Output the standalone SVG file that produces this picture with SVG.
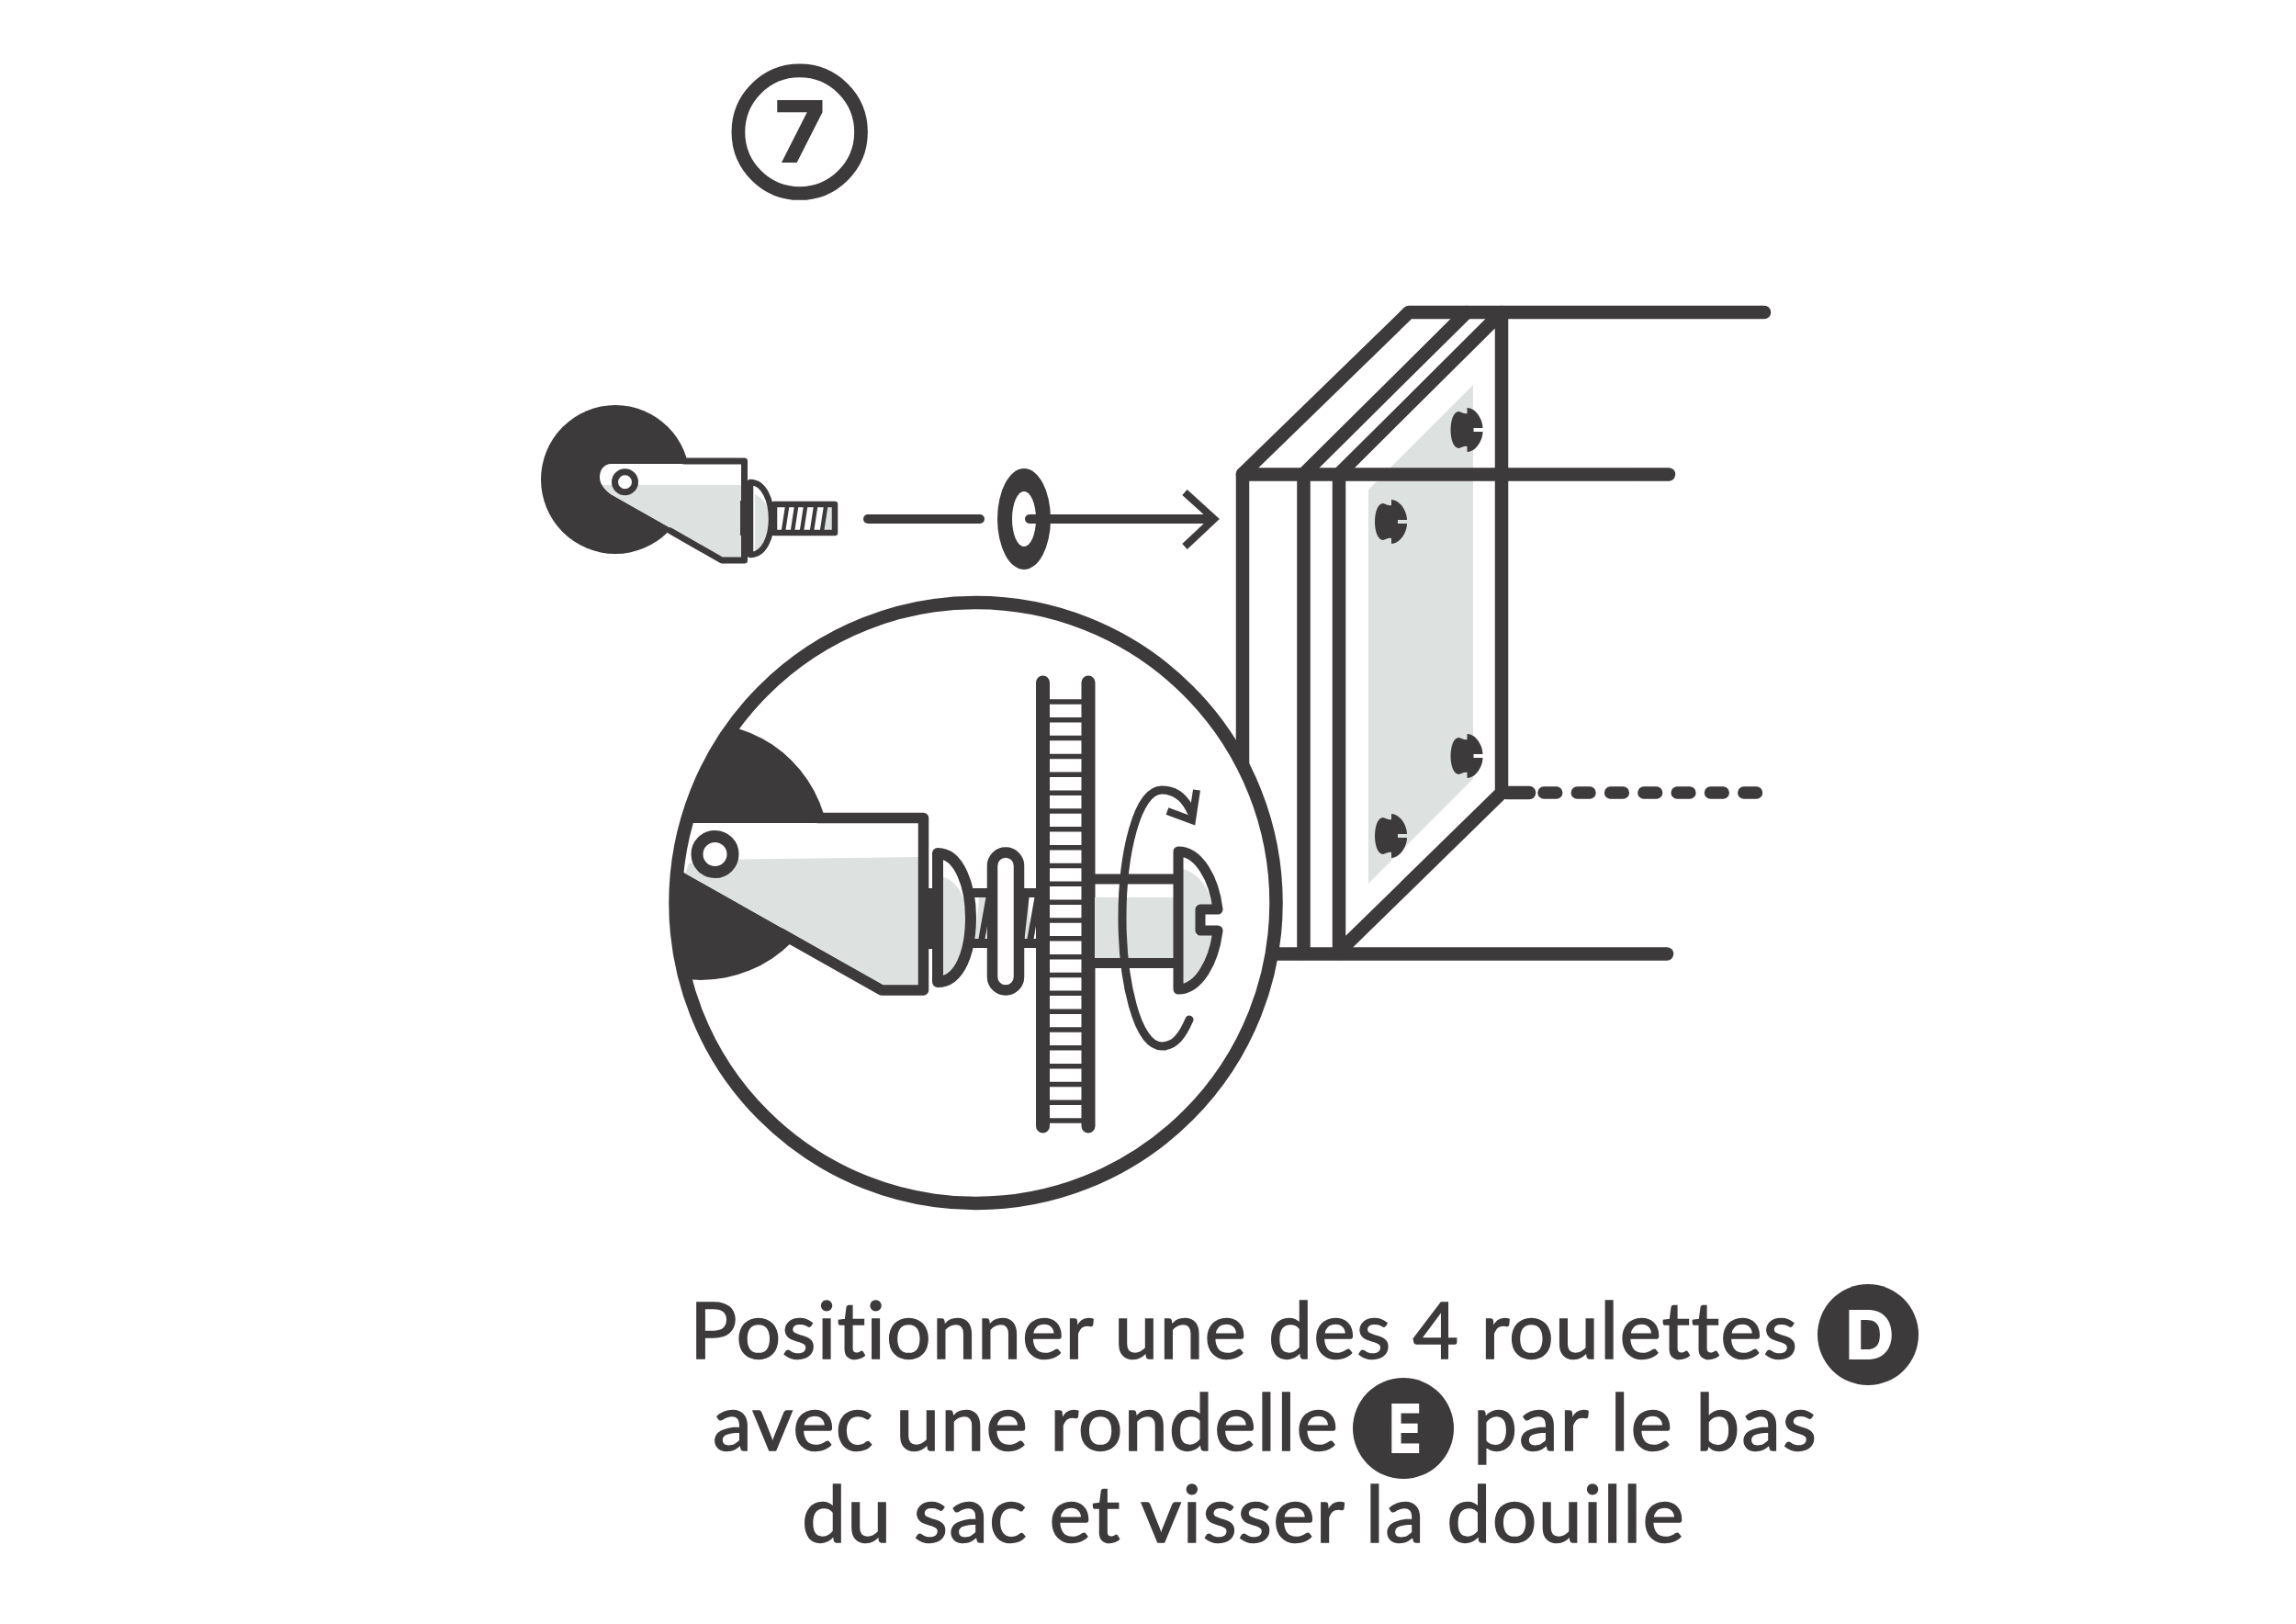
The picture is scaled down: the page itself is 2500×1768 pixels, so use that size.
<svg xmlns="http://www.w3.org/2000/svg" width="2500" height="1768" viewBox="0 0 2500 1768">
<style>
.l{fill:none;stroke:#3d3a3b;stroke-linecap:round;stroke-linejoin:round}
.d{fill:#3d3a3b}
.g{fill:#dde1df}
.w{fill:#fff}
.t{font-family:"Lato","Liberation Sans",sans-serif;font-size:86px;fill:#3d3a3b;stroke:#3d3a3b;stroke-width:1.4px;font-variant-ligatures:none}
.b{font-family:"Inter","Liberation Sans",sans-serif;font-weight:800;text-anchor:middle}
</style>
<defs>
<clipPath id="lens"><circle cx="1062.5" cy="983" r="327"/></clipPath>
<path id="screw" class="d" d="M0 -24C9 -24 17 -12 17 -2H7V2H17C17 12 9 24 0 24V18C-3 17 -5 19 -9 20C-15 20 -18 10 -18 0C-18 -10 -15 -20 -9 -20C-5 -19 -3 -17 0 -18Z"/>
</defs>
<rect width="2500" height="1768" fill="#fff"/>
<g id="step-number">
<circle cx="870.7" cy="143.7" r="66.8" fill="#fff" stroke="#3d3a3b" stroke-width="14.7"/>
<text class="b" x="871" y="177" font-size="94" fill="#3d3a3b">7</text>
</g>
<g id="bag">
<polygon class="g" points="1490,533 1604,419 1604,848 1490,962"/>
<use href="#screw" x="1597.5" y="468"/>
<use href="#screw" x="1515" y="568"/>
<use href="#screw" x="1597.5" y="823"/>
<use href="#screw" x="1515" y="910"/>
<g class="l" stroke-width="14.5">
<path d="M1353 835V516L1534 340H1921"/>
<path d="M1353 516.500H1817"/>
<path d="M1380 1038.500H1815"/>
<path d="M1419.500 1038V516L1597 340"/>
<path d="M1458 1038V516L1635 340V863L1458 1036"/>
<path d="M1640 863H1665"/>
<path d="M1681 863H1919" stroke-dasharray="13.700 22.600" stroke-width="13.500"/>
</g>
</g>
<g id="caster">
<circle class="d" cx="670" cy="522" r="81"/>
<path class="w" d="M666 505H807V607H787L665 538C655 530 653 525 653 519C653 511 658 505 666 505Z"/>
<path class="g" d="M656 528H807V607H787L665 538C660 534 657 531 656 528Z"/>
<path class="l" stroke-width="7" d="M745 502H810.500V610H786L730 578"/>
<circle cx="680.500" cy="524.700" r="11" fill="#fff" stroke="#3d3a3b" stroke-width="7"/>
<rect class="d" x="806" y="545" width="12" height="38"/>
<path class="w" d="M817 525C832 525 840 545 840 565C840 585 832 604 817 604Z"/>
<path class="g" d="M822 538C832 543 838 552 838 565C838 582 832 596 822 600Z"/>
<path class="l" stroke-width="6.500" d="M817 525C832 525 840 545 840 565C840 585 832 604 817 604Z"/>
<rect x="843" y="549" width="66" height="31" fill="#fff"/>
<polygon class="g" points="899,552 908,552 908,578 896,578"/>
<path class="l" stroke-width="4.500" d="M857 552L853 578M867 552L863 578M877 552L873 578M888 552L884 578M899 552L895 578"/>
<rect x="843" y="549" width="66" height="31" fill="none" stroke="#3d3a3b" stroke-width="6.500" stroke-linejoin="round"/>
</g>
<g id="washer">
<ellipse class="d" cx="1115" cy="565" rx="29" ry="55"/>
<ellipse class="w" cx="1115" cy="565" rx="13" ry="30"/>
</g>
<g id="connectors">
<path class="l" stroke-width="10" d="M945 565H1067"/>
<path class="l" stroke-width="10" d="M1121 565H1318"/>
<path fill="none" stroke="#3d3a3b" stroke-width="8" d="M1290 536L1322 565L1290 595"/>
</g>
<g id="detail">
<circle class="w" cx="1062.500" cy="983" r="327"/>
<g clip-path="url(#lens)">
<circle class="d" cx="763" cy="927" r="140"/>
<path class="w" d="M700 896H1000V1073H962L700 925Z"/>
<path class="g" d="M775 936L1000 933V1073H962L746 951L750 940Z"/>
<path class="d" d="M700 927L746 951L962 1073L959 1083L700 935Z"/>
<path class="l" stroke-width="11.500" d="M890 890.500H1005.500V1078H960L850 1016"/>
<circle cx="778.500" cy="930" r="19.500" fill="#fff" stroke="#3d3a3b" stroke-width="13"/>
</g>
<rect class="d" x="1006" y="967" width="12" height="66"/>
<rect x="1055" y="972" width="80" height="56" fill="#fff"/>
<polygon class="g" points="1066,977 1078,977 1070,1022 1062,1022"/>
<polygon class="g" points="1118,977 1120,977 1122,1022 1113,1022"/>
<path class="l" stroke-width="7" stroke-linecap="butt" d="M1077 977L1069 1022M1117 977L1112 1022M1130 977L1122 1022"/>
<path class="l" stroke-width="10" d="M1060 972H1130M1060 1027H1130"/>
<path class="w" d="M1021 929C1045 929 1057 966 1057 999C1057 1036 1045 1069 1021 1069Z"/>
<path class="g" d="M1027 955C1040 957 1053 977 1053 1001C1053 1036 1042 1060 1027 1063Z"/>
<path class="l" stroke-width="12" d="M1021 929C1045 929 1057 966 1057 999C1057 1036 1045 1069 1021 1069Z"/>
<rect x="1080.500" y="928" width="29" height="150" rx="14.500" fill="#fff" stroke="#3d3a3b" stroke-width="11.500"/>
<path class="l" stroke-width="5.500" stroke-linecap="butt" d="M1135 764H1185M1135 783.800H1185M1135 803.600H1185M1135 823.500H1185M1135 843.300H1185M1135 863.200H1185M1135 883H1185M1135 902.800H1185M1135 922.700H1185M1135 942.500H1185M1135 962.300H1185M1135 982.200H1185M1135 1002H1185M1135 1021.800H1185M1135 1041.700H1185M1135 1061.500H1185M1135 1081.300H1185M1135 1101.200H1185M1135 1121H1185M1135 1140.800H1185M1135 1160.700H1185M1135 1180.500H1185M1135 1200.300H1185M1135 1220H1185"/>
<path class="l" stroke-width="15" d="M1135.500 743V1226M1185 743V1226"/>
<rect class="g" x="1192" y="977" width="88" height="66"/>
<path class="l" stroke-width="11" stroke-linecap="butt" d="M1192 957H1280M1192 1048.500H1280"/>
<path class="w" d="M1283 927C1305 927 1322 956 1326 990H1307V1013H1326C1322 1047 1305 1077 1283 1077Z"/>
<path class="g" d="M1288 946C1305 951 1316 966 1320 985H1302V1018H1320C1316 1042 1303 1066 1288 1071Z"/>
<path class="l" stroke-width="11" d="M1283 927C1305 927 1322 956 1326 990H1307V1013H1326C1322 1047 1305 1077 1283 1077Z"/>
<path class="l" stroke-width="9" d="M1297 884C1290 868 1280 860 1265 860C1238 860 1222 930 1222 999C1222 1068 1238 1139 1265 1139C1280 1139 1288 1126 1295 1110"/>
<path fill="none" stroke="#3d3a3b" stroke-width="8" d="M1271 883L1298 893L1303 860"/>
<circle cx="1062.500" cy="983" r="327" fill="none" stroke="#3d3a3b" stroke-width="14.500"/>
</g>
<g id="caption">
<text class="t" x="751" y="1479" textLength="1206" lengthAdjust="spacing">Positionner une des 4 roulettes</text>
<text class="t" x="776" y="1579" textLength="681" lengthAdjust="spacing">avec une rondelle</text>
<text class="t" x="1604" y="1579" textLength="374" lengthAdjust="spacing">par le bas</text>
<text class="t" x="873" y="1679" textLength="961" lengthAdjust="spacing">du sac et visser la douille</text>
</g>
<g id="badge-d">
<circle class="d" cx="2034" cy="1453" r="55"/>
<text class="b" x="2036" y="1480" font-size="74" fill="#fff">D</text>
</g>
<g id="badge-e">
<circle class="d" cx="1528" cy="1555" r="55"/>
<text class="b" x="1530" y="1582" font-size="74" fill="#fff" textLength="36" lengthAdjust="spacingAndGlyphs">E</text>
</g>
</svg>
